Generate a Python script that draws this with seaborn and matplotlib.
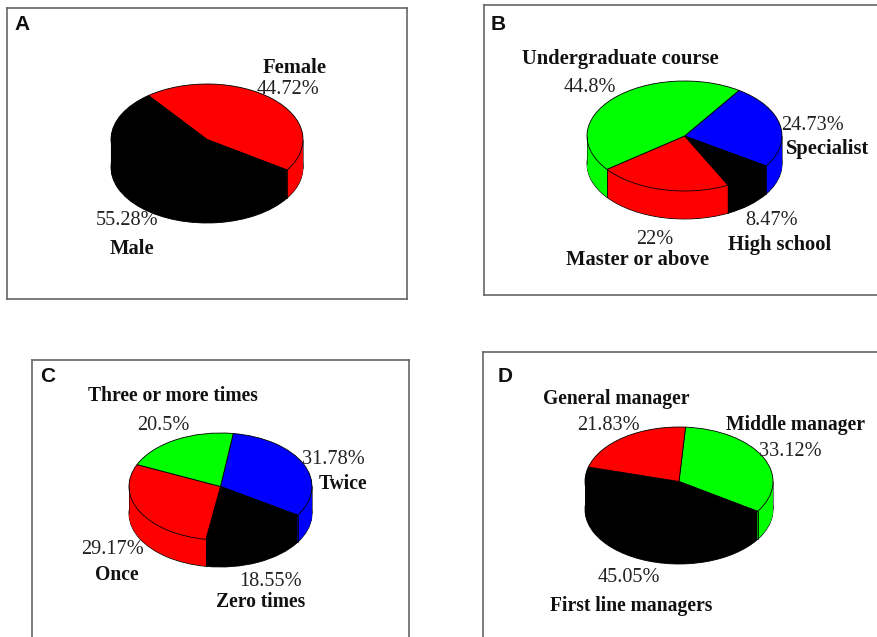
import matplotlib
matplotlib.use('Agg')
import matplotlib.pyplot as plt
import numpy as np
import seaborn as sns

sns.set_theme(style='white')
plt.rcParams['font.family'] = ['Liberation Serif', 'DejaVu Serif']

W, H = 877, 637

# Data (clockwise from the start angle)
names_a = ['Female', 'Male']
values_a = [44.72, 55.28]
names_b = ['Specialist', 'High school', 'Master or above', 'Undergraduate course']
values_b = [24.73, 8.47, 22, 44.8]
names_c = ['Twice', 'Zero times', 'Once', 'Three or more times']
values_c = [31.78, 18.55, 29.17, 20.5]
names_d = ['Middle manager', 'First line managers', 'General manager']
values_d = [33.12, 45.05, 21.83]

red, green, blue, black = sns.color_palette(['#ff0000', '#00ff00', '#0000ff', '#000000'])


def px(x, y):
    return x / W, 1 - y / H


def draw_pie(letter, letter_xy, box, ellipse, depth, start, names, values, colors, name_xy, value_xy, name_size=14.8):
    x0, y0, x1, y1 = box
    cx, cy, rx, ry = ellipse
    ax = fig.add_axes([x0 / W, 1 - y1 / H, (x1 - x0) / W, (y1 - y0) / H])
    d = depth / ry

    # stack of pies gives the side wall, the top one gets the outline
    n = 56
    for k in range(n, 0, -1):
        lw = 0.6 if k == n else 0
        ax.pie(values, colors=colors, startangle=start, counterclock=False,
               center=(0, -d * k / n), radius=1,
               wedgeprops={'edgecolor': 'black', 'linewidth': lw})
    ax.pie(values, colors=colors, startangle=start, counterclock=False,
           center=(0, 0), radius=1, wedgeprops={'edgecolor': 'black', 'linewidth': 0.6})

    # seams on the front of the wall
    angles = np.radians(start - np.cumsum([0] + list(values)[:-1]) * 3.6)
    for a in angles:
        if np.sin(a) < 0:
            ax.plot([np.cos(a)] * 2, [np.sin(a), np.sin(a) - d], color='black', lw=0.6)
    for side in [-1, 1]:
        ax.plot([side, side], [0, -d], color='black', lw=0.4)

    ax.set_aspect('auto')
    ax.set_xlim((x0 - cx) / rx, (x1 - cx) / rx)
    ax.set_ylim((cy - y1) / ry, (cy - y0) / ry)
    ax.set_frame_on(True)
    ax.set_xticks([])
    ax.set_yticks([])
    for s in ax.spines.values():
        s.set_visible(True)
        s.set_color('#666666')
        s.set_linewidth(1.2)

    fx, fy = px(letter_xy[0], letter_xy[1] + 1)
    fig.text(fx, fy, letter, family='Liberation Sans', fontsize=15, fontweight='bold',
             color='#111111', ha='center', va='center')
    for name, v, nxy, vxy in zip(names, values, name_xy, value_xy):
        fx, fy = px(nxy[0], nxy[1] + 2)
        fig.text(fx, fy, name, fontsize=name_size, fontweight='bold', color='#111111',
                 ha='center', va='center')
        fx, fy = px(vxy[0], vxy[1] + 2)
        fig.text(fx, fy, f'{v:g}%', fontsize=14.6, color='#222222', ha='center', va='center')


fig = plt.figure(figsize=(W / 100, H / 100), dpi=100, facecolor='white')

draw_pie('A', (22, 23), (7, 8, 407, 299), (207, 139.5, 96, 55.5), 28, 127.6,
         names_a, values_a, [red, black],
         [(295, 66), (132, 247)], [(288, 88), (127, 219)])
draw_pie('B', (498, 23), (484, 5, 900, 295), (684.5, 136, 97.5, 55), 28, 56,
         names_b, values_b, [blue, black, red, green],
         [(828, 147), (780, 243), (638, 258), (620, 57)],
         [(813, 123), (772, 219), (655, 237), (590, 86)])
draw_pie('C', (48, 376), (32, 360, 409, 660), (220.5, 486.5, 91.5, 53.5), 27, 82,
         names_c, values_c, [blue, black, red, green],
         [(343, 482), (261, 600), (117, 573), (173, 394)],
         [(333, 457), (271, 579), (112, 547), (163, 423)], name_size=14.1)
draw_pie('D', (505, 376), (483, 352, 900, 660), (679, 481.5, 94, 54.5), 28, 86,
         names_d, values_d, [green, black, red],
         [(795, 423), (631, 604), (616, 397)],
         [(790, 450), (629, 575), (608, 423)], name_size=14.1)

plt.savefig('out.png', dpi=100)
